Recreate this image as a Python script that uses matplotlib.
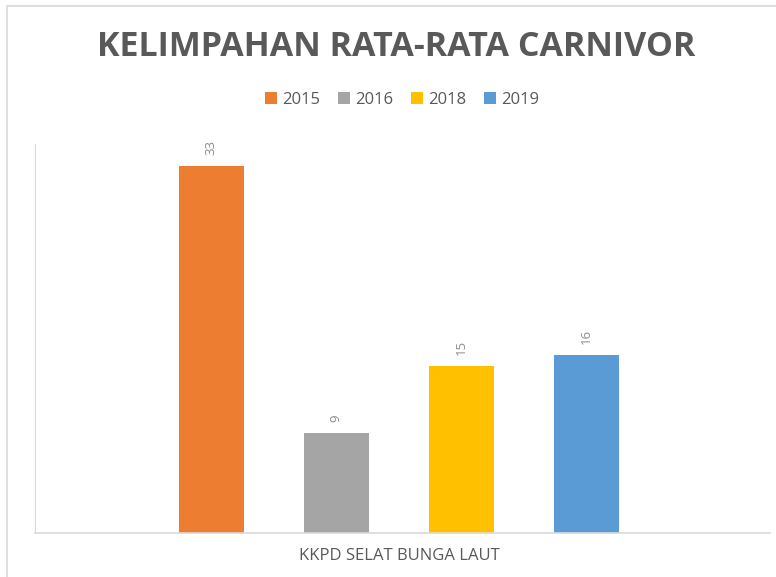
import matplotlib.pyplot as plt
from matplotlib.patches import Rectangle

years = ["2015", "2016", "2018", "2019"]
values = [33, 9, 15, 16]
colors = ["#ED7D31", "#A5A5A5", "#FFC000", "#5B9BD5"]
category = "KKPD SELAT BUNGA LAUT"
title = "KELIMPAHAN RATA-RATA CARNIVOR"

font = "Open Sans"

fig = plt.figure(figsize=(7.76, 5.77), dpi=100)
# outer chart frame
fig.patches.append(Rectangle((7 / 776, -0.01), 1.0, 1.0 - 6 / 577 + 0.01, transform=fig.transFigure,
                             fill=False, edgecolor="#d9d9d9", linewidth=1.2))

ax = fig.add_axes([35 / 776, 44 / 577, 735 / 776, 389 / 577])
for i, (y, v, c) in enumerate(zip(years, values, colors)):
    x = i - 1.5
    ax.bar(x, v, width=0.52, color=c, label=y)
    ax.text(x, v + 1.0, str(v), rotation=90, ha="center", va="bottom",
            fontsize=9.5, color="#8c8c8c", family=font)

ax.set_xlim(-2.91, 2.97)
ax.set_ylim(0, 35)
ax.set_xticks([])
ax.set_yticks([])
for s in ["top", "right"]:
    ax.spines[s].set_visible(False)
ax.spines["left"].set_color("#d9d9d9")
ax.spines["bottom"].set_color("#d9d9d9")
ax.spines["bottom"].set_linewidth(1.2)

fig.text(0.51, 1 - 47 / 577, title, ha="center", va="center", fontsize=24.5,
         fontweight="bold", color="#595959", family=font)
fig.text(0.515, 1 - 556 / 577, category, ha="center", va="center", fontsize=12,
         color="#595959", family=font)

fig.legend(loc="center", bbox_to_anchor=(0.518, 1 - 100 / 577), ncol=4, frameon=False,
           handlelength=0.7, handleheight=0.7, handletextpad=0.3, columnspacing=1.1,
           prop={"family": font, "size": 12}, labelcolor="#595959")

fig.savefig("out.png", dpi=100)
